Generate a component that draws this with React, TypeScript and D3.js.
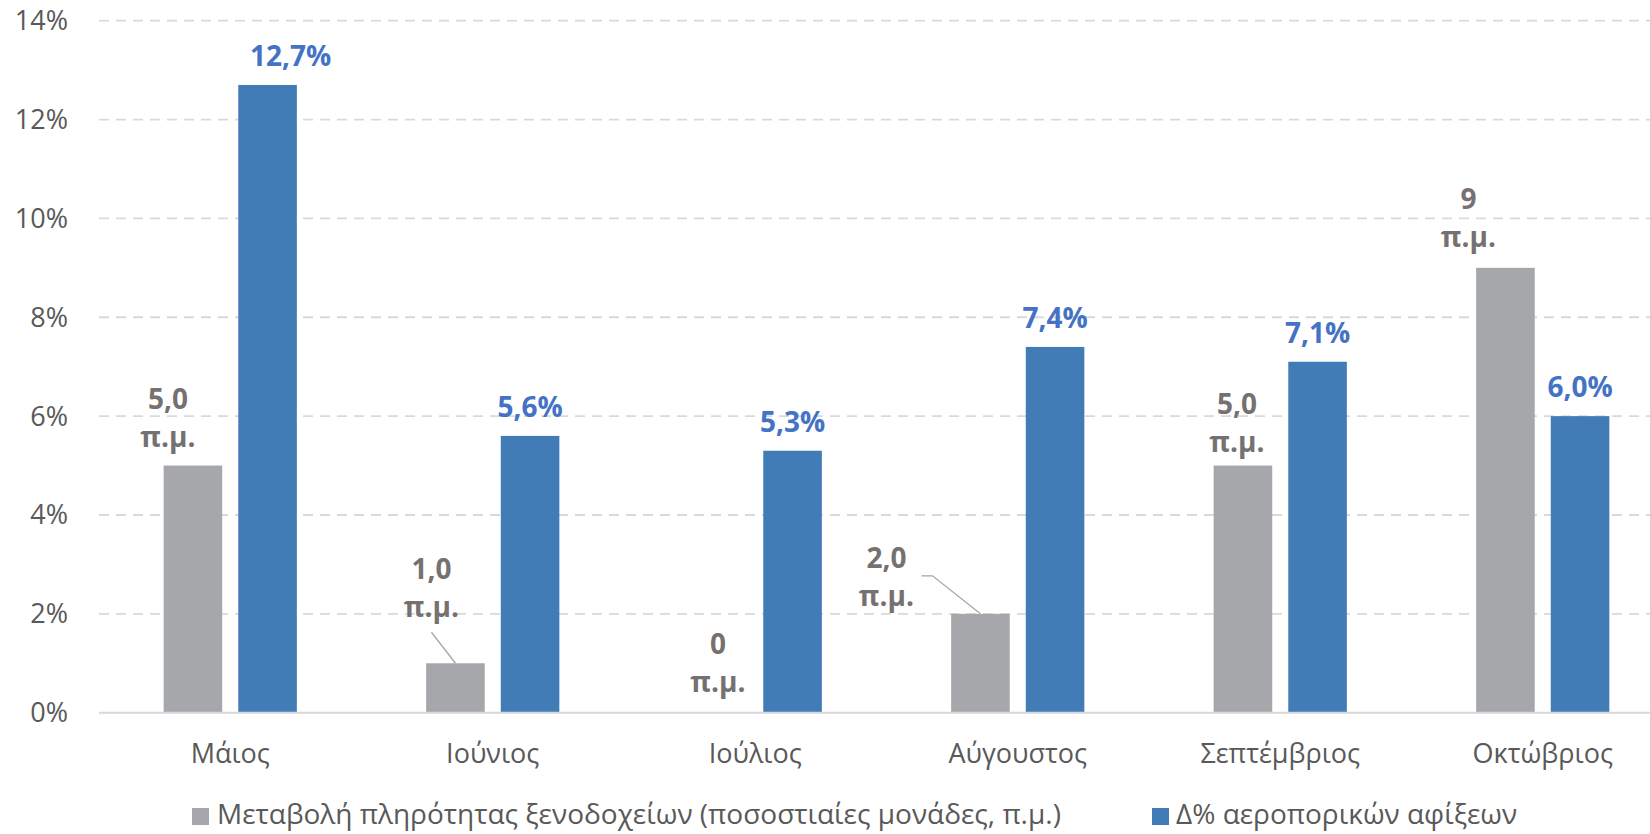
import React from "react";
import * as d3 from "d3";

const categories = ["Μάιος", "Ιούνιος", "Ιούλιος", "Αύγουστος", "Σεπτέμβριος", "Οκτώβριος"];
const seriesNames = [
  "Μεταβολή πληρότητας ξενοδοχείων (ποσοστιαίες μονάδες, π.μ.)",
  "Δ% αεροπορικών αφίξεων",
];
const occupancyChange = [5, 1, 0, 2, 5, 9];
const occupancyLabels = ["5,0", "1,0", "0", "2,0", "5,0", "9"];
const arrivalsChange = [12.7, 5.6, 5.3, 7.4, 7.1, 6.0];
const yTicks = [0, 2, 4, 6, 8, 10, 12, 14];

// label placement (manual offsets as in the source chart)
const grayLabelOffsets: [number, number][] = [
  [-25, -57],
  [-24, -84],
  [0, -59],
  [-94, -46],
  [-6, -52],
  [-37, -59],
];
const blueLabelDx = [23, 0, 0, 0, 0, 0];

const W = 1650;
const H = 834;
const FONT = "'Open Sans', 'Noto Sans', sans-serif";
const GRAY = "#A6A7AB";
const BLUE = "#427CB6";
const GRAY_TXT = "#767171";
const BLUE_TXT = "#4472C4";
const AXIS_TXT = "#595959";
const GRID = "#D9D9D9";

export default function App() {
  const x0 = d3.scaleBand<string>().domain(categories).range([99, 1674]);
  const groupW = 133.2;
  const x1 = d3.scaleBand<string>().domain(["occ", "arr"]).range([0, groupW]).paddingInner(0.215);
  const gOff = (x0.bandwidth() - groupW) / 2;
  const y = d3.scaleLinear().domain([0, 14]).range([712.7, 20.7]);
  const fmtBlue = (v: number) => d3.format(".1f")(v).replace(".", ",") + "%";
  const bw = x1.bandwidth();

  return (
    <svg
      width={W}
      height={H}
      style={{ position: "absolute", left: 0, top: 0, display: "block", background: "#fff" }}
      fontFamily={FONT}
    >
      <rect x={0} y={0} width={W} height={H} fill="#fff" />
      {/* gridlines */}
      {yTicks
        .filter((t) => t > 0)
        .map((t) => (
          <line
            key={"g" + t}
            x1={99}
            x2={W}
            y1={y(t)}
            y2={y(t)}
            stroke={GRID}
            strokeWidth={1.8}
            strokeDasharray="10 7"
          />
        ))}
      {/* y tick labels */}
      {yTicks.map((t) => (
        <text
          key={"t" + t}
          x={68}
          y={y(t) + 9.5}
          textAnchor="end"
          fontSize={27}
          fill={AXIS_TXT}
        >
          {t + "%"}
        </text>
      ))}
      {/* bars */}
      {categories.map((c, i) => {
        const gx = (x0(c) as number) + gOff;
        return (
          <g key={"b" + c}>
            <rect
              x={gx + (x1("occ") as number)}
              y={y(occupancyChange[i])}
              width={bw}
              height={y(0) - y(occupancyChange[i])}
              fill={GRAY}
            />
            <rect
              x={gx + (x1("arr") as number)}
              y={y(arrivalsChange[i])}
              width={bw}
              height={y(0) - y(arrivalsChange[i])}
              fill={BLUE}
            />
          </g>
        );
      })}
      {/* axis line */}
      <line x1={99} x2={W} y1={y(0)} y2={y(0)} stroke={GRID} strokeWidth={2} />
      {/* category labels */}
      {categories.map((c) => (
        <text
          key={"c" + c}
          x={(x0(c) as number) + x0.bandwidth() / 2}
          y={763}
          textAnchor="middle"
          fontSize={27}
          fill={AXIS_TXT}
        >
          {c}
        </text>
      ))}
      {/* blue data labels */}
      {categories.map((c, i) => {
        const cx = (x0(c) as number) + gOff + (x1("arr") as number) + bw / 2 + blueLabelDx[i];
        return (
          <text
            key={"bl" + c}
            x={cx}
            y={y(arrivalsChange[i]) - 19}
            textAnchor="middle"
            fontSize={28}
            fontWeight={700}
            fill={BLUE_TXT}
          >
            {fmtBlue(arrivalsChange[i])}
          </text>
        );
      })}
      {/* gray data labels with leader lines */}
      {categories.map((c, i) => {
        const bx = (x0(c) as number) + gOff + (x1("occ") as number) + bw / 2;
        const by = y(occupancyChange[i]);
        const lx = bx + grayLabelOffsets[i][0];
        const ly = by + grayLabelOffsets[i][1];
        let leader: string | null = null;
        if (i === 1) {
          leader = `M${lx},${ly + 53}L${bx},${by}`;
        } else if (i === 3) {
          leader = `M${lx + 35},${ly + 8}L${lx + 46},${ly + 8}L${bx},${by}`;
        }
        return (
          <g key={"gl" + c}>
            {leader && <path d={leader} fill="none" stroke="#A6A6A6" strokeWidth={1.3} />}
            <text x={lx} y={ly} textAnchor="middle" fontSize={28} fontWeight={700} fill={GRAY_TXT}>
              {occupancyLabels[i]}
            </text>
            <text x={lx} y={ly + 38} textAnchor="middle" fontSize={28} fontWeight={700} fill={GRAY_TXT}>
              π.μ.
            </text>
          </g>
        );
      })}
      {/* legend */}
      <rect x={192} y={808} width={17} height={17} fill={GRAY} />
      <text x={217} y={824} fontSize={28} fill={AXIS_TXT}>
        {seriesNames[0]}
      </text>
      <rect x={1152} y={808} width={17} height={17} fill={BLUE} />
      <text x={1176} y={824} fontSize={28} fill={AXIS_TXT}>
        {seriesNames[1]}
      </text>
    </svg>
  );
}
